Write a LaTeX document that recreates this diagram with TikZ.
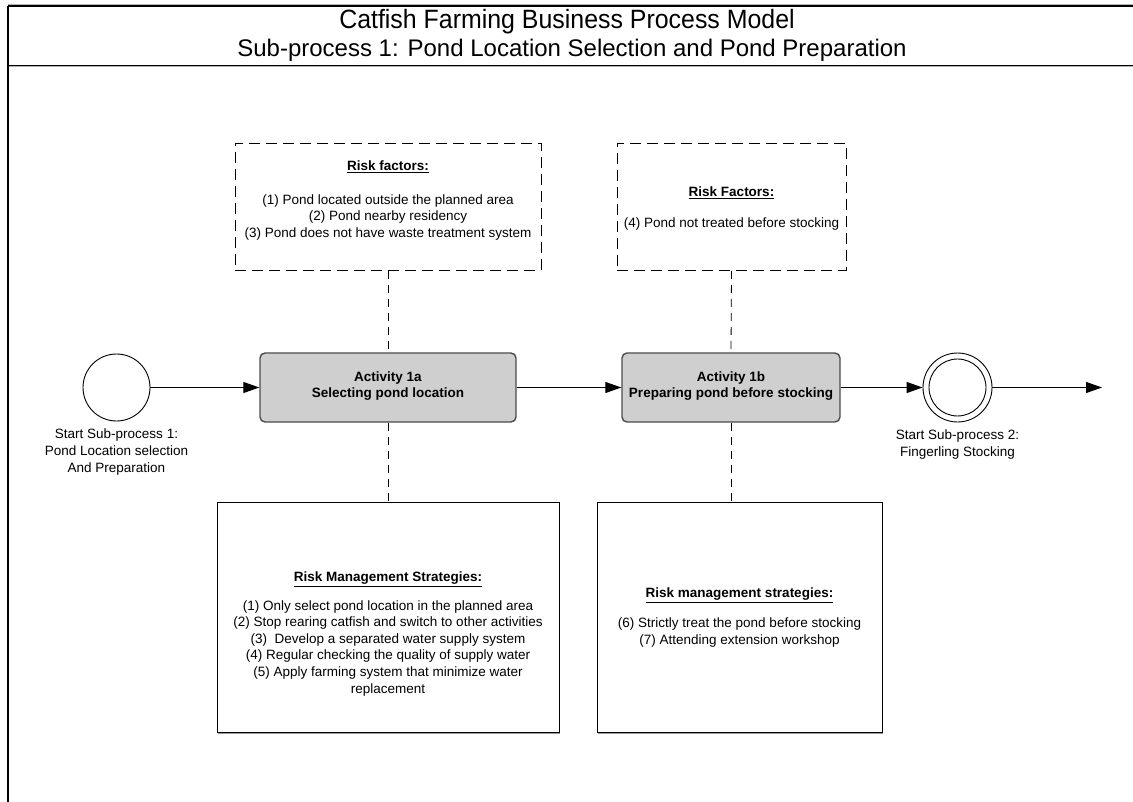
\documentclass[tikz,border=0pt]{standalone}
\usepackage{fontspec}
\setmainfont{Liberation Sans}
\usetikzlibrary{arrows.meta}

\begin{document}
\begin{tikzpicture}[x=1pt,y=-1pt,
  txt/.style={font=\fontsize{13.5}{16.6}\selectfont, align=center, inner sep=0pt},
  riskbox/.style={draw=black, line width=0.9pt, dash pattern=on 11pt off 6pt, inner sep=0pt},
  stratbox/.style={draw=black, line width=1pt, inner sep=0pt},
  actbox/.style={draw=black!70, fill=black!19, line width=1.4pt, rounded corners=5pt, inner sep=0pt,
    font=\bfseries\fontsize{13.5}{16}\selectfont, align=center},
  event/.style={circle, draw=black, line width=0.9pt, minimum size=67pt, inner sep=0pt},
  flow/.style={line width=1pt, -{Triangle[length=16pt,width=11pt]}},
  assoc/.style={line width=0.8pt, dash pattern=on 8pt off 6pt}
]
% canvas
\useasboundingbox (0,0) rectangle (1133,802);
\fill[white] (0,0) rectangle (1133,802);

% frame of the model
\draw[black!30, line width=1pt] (8,4.5) -- (1133,4.5);
\draw[black!30, line width=1pt] (8,67) -- (1133,67);
\draw[line width=1.6pt] (8,6) -- (1133,6);
\draw[line width=1.6pt] (8,65.5) -- (1133,65.5);
\draw[line width=1.6pt] (8,6) -- (8,802);

% title
\node[inner sep=0pt, font=\fontsize{26.5}{30}\selectfont, xscale=0.94, transform shape] (title) at (567,22) {Catfish Farming Business Process Model};
\node[inner sep=0pt, font=\fontsize{24}{28}\selectfont] (subtitle) at (572,50) {Sub-process 1: Pond Location Selection and Pond Preparation};

% risk factor boxes
\node[riskbox, minimum width=306pt, minimum height=127pt] (rf1) at (388,207) {};
\node[txt] (rf1txt) at (388,200.5) {\underline{\textbf{Risk factors:}}\\[17pt]
(1) Pond located outside the planned area\\
(2) Pond nearby residency\\
(3) Pond does not have waste treatment system};

\node[riskbox, minimum width=229pt, minimum height=127pt] (rf2) at (731.5,207) {};
\node[txt] (rf2txt) at (731.5,208.5) {\underline{\textbf{Risk Factors:}}\\[14.5pt]
(4) Pond not treated before stocking};

% activities
\node[actbox, minimum width=256pt, minimum height=69pt] (act1) at (388,387.5) {};
\node[actbox, draw=none, fill=none] (act1txt) at (388,386) {Activity 1a\\Selecting pond location};
\node[actbox, minimum width=218pt, minimum height=69pt] (act2) at (731,387.5) {};
\node[actbox, draw=none, fill=none] (act2txt) at (731,386) {Activity 1b\\Preparing pond before stocking};

% events
\node[event] (start) at (116.5,387.5) {};
\node[txt] (startlbl) at (116.5,452) {Start Sub-process 1:\\Pond Location selection\\And Preparation};
\node[event, minimum size=69pt] (stop) at (957.5,387.5) {};
\draw[line width=0.9pt] (stop.center) circle (28.5pt);
\node[txt] (stoplbl) at (957.5,444.5) {Start Sub-process 2:\\Fingerling Stocking};
\coordinate (out) at (1102,387.5);

% strategy boxes
\fill[black!40] (218,503.5) rectangle (560,733.5);
\node[stratbox, fill=white, minimum width=342pt, minimum height=230pt] (rm1) at (388,617) {};
\node[txt] (rm1txt) at (388,634) {\underline{\textbf{Risk Management Strategies:}}\\[11.5pt]
(1) Only select pond location in the planned area\\
(2) Stop rearing catfish and switch to other activities\\
(3)\ \ Develop a separated water supply system\\
(4) Regular checking the quality of supply water\\
(5) Apply farming system that minimize water\\
replacement};

\fill[black!40] (598,503.5) rectangle (883,733.5);
\node[stratbox, fill=white, minimum width=285pt, minimum height=230pt] (rm2) at (739.5,617) {};
\node[txt] (rm2txt) at (739.5,617.5) {\underline{\textbf{Risk management strategies:}}\\[13.5pt]
(6) Strictly treat the pond before stocking\\
(7) Attending extension workshop};

% sequence flows
\draw[flow] (start.east) -- (act1.west);
\draw[flow] (act1.east) -- (act2.west);
\draw[flow] (act2.east) -- (stop.west);
\draw[flow] (stop.east) -- (out);

% associations
\draw[assoc] (rf1.south) -- (act1.north);
\draw[assoc] (act1.south) -- (rm1.north);
\draw[assoc] (rf2.south) -- (act2.north);
\draw[assoc] (act2.south) -- (act2.south |- rm2.north);
\end{tikzpicture}
\end{document}
